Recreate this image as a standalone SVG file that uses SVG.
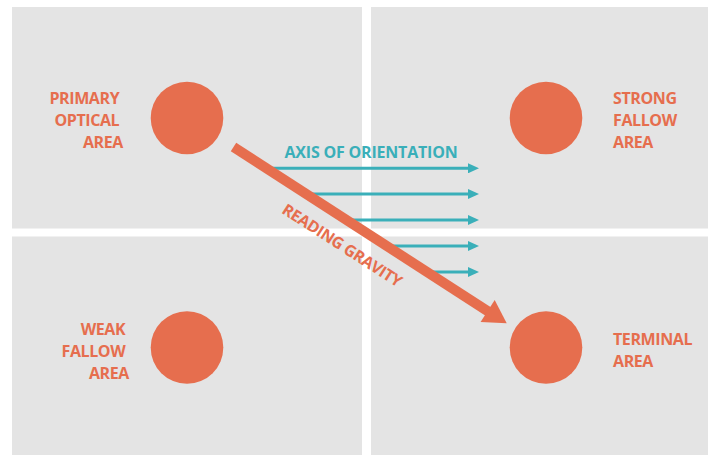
<svg xmlns="http://www.w3.org/2000/svg" width="708" height="455" viewBox="0 0 708 455">
  <defs>
    <style>
      .quad { fill: #e4e4e4; }
      .dot { fill: #e66e4e; }
      .label { font-family: "Open Sans", "Liberation Sans", sans-serif; font-weight: 700; font-size: 16px; letter-spacing: -0.4px; fill: #e66e4e; }
      .axis-label { font-family: "Open Sans", "Liberation Sans", sans-serif; font-weight: 700; font-size: 16px; letter-spacing: -0.2px; fill: #3aafb9; }
      .axis { stroke: #3aafb9; stroke-width: 3; fill: none; }
    </style>
    <marker id="tealHead" viewBox="0 0 11 10" refX="0.5" refY="5" markerWidth="11" markerHeight="10" markerUnits="userSpaceOnUse" orient="auto">
      <path d="M0,0 L11,5 L0,10 Z" fill="#3aafb9"/>
    </marker>
  </defs>

  <rect width="708" height="455" fill="#ffffff"/>

  <!-- four quadrants -->
  <g id="quadrants">
    <rect class="quad" x="12" y="7" width="350" height="221.5"/>
    <rect class="quad" x="371" y="7" width="337" height="221.5"/>
    <rect class="quad" x="12" y="236.5" width="350" height="218.5"/>
    <rect class="quad" x="371" y="236.5" width="337" height="218.5"/>
  </g>

  <!-- areas -->
  <g id="primary-optical-area">
    <circle class="dot" cx="187" cy="118" r="36.3"/>
    <text class="label" text-anchor="end">
      <tspan x="123" y="104">PRIMARY</tspan>
      <tspan x="123" y="126">OPTICAL</tspan>
      <tspan x="123" y="148">AREA</tspan>
    </text>
  </g>

  <g id="strong-fallow-area">
    <circle class="dot" cx="546" cy="118" r="36.3"/>
    <text class="label">
      <tspan x="613" y="104">STRONG</tspan>
      <tspan x="613" y="126">FALLOW</tspan>
      <tspan x="613" y="148">AREA</tspan>
    </text>
  </g>

  <g id="weak-fallow-area">
    <circle class="dot" cx="187" cy="347.5" r="36.3"/>
    <text class="label" text-anchor="end">
      <tspan x="129" y="335">WEAK</tspan>
      <tspan x="129" y="357">FALLOW</tspan>
      <tspan x="129" y="379">AREA</tspan>
    </text>
  </g>

  <g id="terminal-area">
    <circle class="dot" cx="546" cy="347.5" r="36.3"/>
    <text class="label">
      <tspan x="613" y="345">TERMINAL</tspan>
      <tspan x="613" y="367">AREA</tspan>
    </text>
  </g>

  <!-- connectors -->
  <g id="connectors">
    <g id="axis-of-orientation">
      <text class="axis-label" x="371" y="158" text-anchor="middle">AXIS OF ORIENTATION</text>
      <line class="axis" x1="266" y1="168.3" x2="468.5" y2="168.3" marker-end="url(#tealHead)"/>
      <line class="axis" x1="305" y1="194" x2="468.5" y2="194" marker-end="url(#tealHead)"/>
      <line class="axis" x1="345" y1="220" x2="468.5" y2="220" marker-end="url(#tealHead)"/>
      <line class="axis" x1="386" y1="246" x2="468.5" y2="246" marker-end="url(#tealHead)"/>
      <line class="axis" x1="427" y1="272" x2="468.5" y2="272" marker-end="url(#tealHead)"/>
    </g>
    <g id="reading-gravity">
      <line x1="233.5" y1="147" x2="489" y2="312" stroke="#e66e4e" stroke-width="10"/>
      <polygon points="506.7,323.3 480.6,321.9 494.7,300.1" fill="#e66e4e"/>
      <text class="label" transform="translate(339,250) rotate(32.8)" text-anchor="middle">READING GRAVITY</text>
    </g>
  </g>
</svg>
